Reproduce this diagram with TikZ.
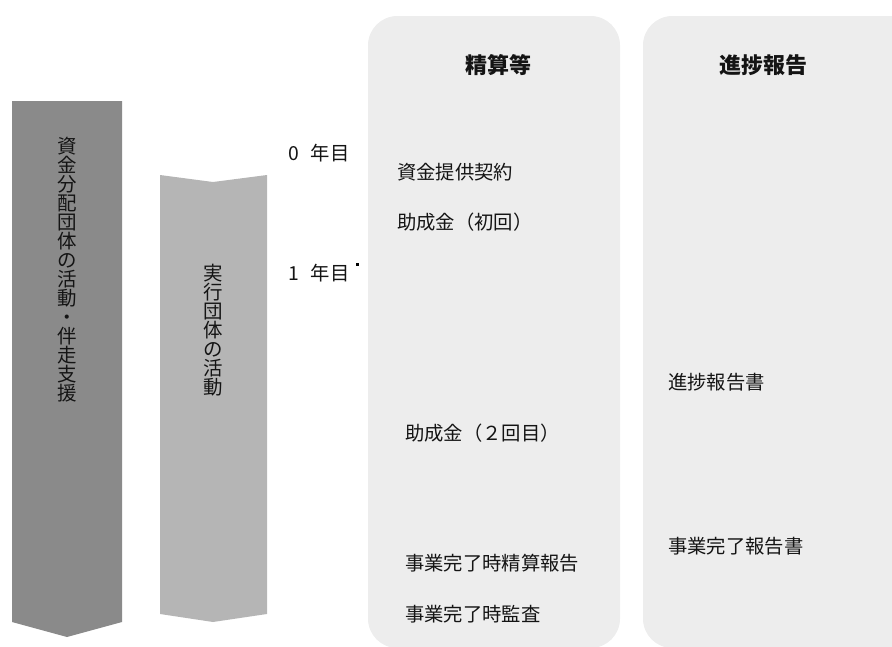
\documentclass[tikz,border=0pt]{standalone}
\usepackage{fontspec}
\setmainfont{Noto Sans CJK JP}
\usepackage{xcolor}
\definecolor{darkarrow}{rgb}{0.54, 0.54, 0.54}
\definecolor{lightarrow}{rgb}{0.71, 0.71, 0.71}
\definecolor{panelgray}{rgb}{0.93, 0.93, 0.93}
\definecolor{txtgray}{rgb}{0.08, 0.08, 0.08}

\begin{document}
\begin{tikzpicture}[x=0.75pt, y=-0.75pt, font=\fontsize{14.5}{17}\selectfont, text=txtgray,
    item/.style={anchor=west, inner sep=0pt},
    vtext/.style={align=center, inner sep=0pt, font=\fontsize{14.6}{14.25}\selectfont},
    head/.style={inner sep=0pt, font=\fontsize{16.5}{19}\selectfont\bfseries}]

    \useasboundingbox (0,0) rectangle (892,646);
    \clip (0,0) rectangle (892,646);

    % Background panels for the two columns
    \fill[panelgray, rounded corners=22pt] (368,16) rectangle (620,648);
    \fill[panelgray, rounded corners=22pt] (643,16) rectangle (918,648);

    % Column headings
    \node[head] (settlehead) at (498,65) {精算等};
    \node[head] (reporthead) at (763,65) {進捗報告};

    % Activity arrows (dark one on the left, chevron next to it)
    \fill[darkarrow] (12,101) -- (122,101) -- (122,622) -- (67,637) -- (12,622) -- cycle;
    \fill[lightarrow] (160,175) -- (213,182) -- (267,175) -- (267,614) -- (213,622) -- (160,614) -- cycle;
    \node[vtext] (fundtext) at (67,270) {資\\金\\分\\配\\団\\体\\の\\活\\動\\・\\伴\\走\\支\\援};
    \node[vtext] (impltext) at (213,330) {実\\行\\団\\体\\の\\活\\動};

    % Year marks
    \foreach \ypos/\name/\yr in {153/yearzero/0, 273/yearone/1} {
        \node[item] (\name) at (288,\ypos) {\yr\hspace{9pt}年目};
    }
    \fill[black] (355.5,262.5) rectangle (358.5,265.5); % small dot next to year 1

    % Items in the settlement column
    \foreach \ypos/\xpos/\name/\txt in {172/397/contract/資金提供契約, 222/397/firstgrant/助成金（初回）,
        433/405/secondgrant/助成金（２回目）, 563/405/finalsettle/事業完了時精算報告, 614/405/finalaudit/事業完了時監査} {
        \node[item] (\name) at (\xpos,\ypos) {\txt};
    }

    % Items in the progress column
    \foreach \ypos/\name/\txt in {382/progressdoc/進捗報告書, 546/finalreport/事業完了報告書} {
        \node[item] (\name) at (668,\ypos) {\txt};
    }
\end{tikzpicture}
\end{document}
